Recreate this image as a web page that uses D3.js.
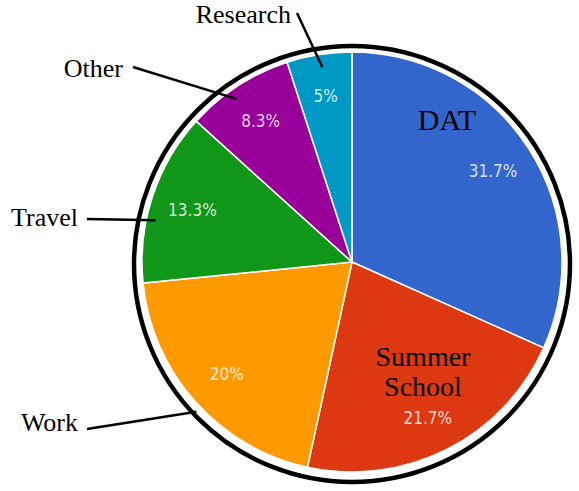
<!DOCTYPE html>
<html>
<head>
<meta charset="utf-8">
<script src="https://cdn.jsdelivr.net/npm/d3@7"></script>
<style>
  html, body { margin: 0; padding: 0; background: #fff; }
  svg { display: block; }
</style>
</head>
<body>
<div id="chart"></div>
<script>
// data
const categories = ["DAT", "Summer School", "Work", "Travel", "Other", "Research"];
const shares = [31.7, 21.7, 20, 13.3, 8.3, 5];
const pctLabels = ["31.7%", "21.7%", "20%", "13.3%", "8.3%", "5%"];
const colors = ["#3366cc", "#dc3912", "#ff9900", "#109618", "#990099", "#0099c6"];

const width = 579, height = 491;
const cx = 352, cy = 262, radius = 210;

// annotation layout (name labels)
const outside = {
  "Research": { x: 291, y: 23, lx: 297, ly: 13, t: 0.52, r: 197 },
  "Other":    { x: 123, y: 77, lx: 133, ly: 67, t: 0.42, r: 200 },
  "Travel":   { x: 78, y: 226, lx: 87, ly: 219, t: 0.37, r: 201 },
  "Work":     { x: 78, y: 431, lx: 87, ly: 429, t: 0.47, r: 216 }
};
const inside = {
  "DAT":           { x: 447, y: 130, lines: ["DAT"] },
  "Summer School": { x: 423, y: 366, lines: ["Summer", "School"] }
};

const svg = d3.select("#chart").append("svg")
  .attr("width", width)
  .attr("height", height);

const g = svg.append("g").attr("transform", `translate(${cx}, ${cy})`);

const data = categories.map((c, i) => ({ key: c, value: shares[i], label: pctLabels[i], color: colors[i] }));

const pie = d3.pie().sort(null).value(d => d.value);
const arcs = pie(data);

const arc = d3.arc().innerRadius(0).outerRadius(radius);
const labelArc = d3.arc().innerRadius(168).outerRadius(168);

// slices
g.selectAll("path.slice")
  .data(arcs)
  .join("path")
  .attr("class", "slice")
  .attr("d", arc)
  .attr("fill", d => d.data.color)
  .attr("stroke", "#ffffff")
  .attr("stroke-width", 1.5);

// percentage labels
g.selectAll("text.pct")
  .data(arcs)
  .join("text")
  .attr("class", "pct")
  .attr("transform", d => `translate(${labelArc.centroid(d)})`)
  .attr("text-anchor", "middle")
  .attr("dy", d => d.data.key === "Summer School" ? "0.7em" : "0.35em")
  .style("font-family", "'DejaVu Sans Condensed', 'DejaVu Sans', sans-serif")
  .style("font-size", "17px")
  .style("fill", "#ffffff")
  .style("fill-opacity", 0.82)
  .text(d => d.data.label);

// black ring around the pie
svg.append("circle")
  .attr("cx", cx)
  .attr("cy", cy + 2)
  .attr("r", 218)
  .attr("fill", "none")
  .attr("stroke", "#000")
  .attr("stroke-width", 4.5);

// outside names with leader lines
const outArcs = arcs.filter(d => outside[d.data.key]);
outArcs.forEach(d => {
  const o = outside[d.data.key];
  const a = d.startAngle + o.t * (d.endAngle - d.startAngle);
  const ex = cx + o.r * Math.sin(a);
  const ey = cy - o.r * Math.cos(a);
  svg.append("line")
    .attr("x1", o.lx).attr("y1", o.ly)
    .attr("x2", ex).attr("y2", ey)
    .attr("stroke", "#000")
    .attr("stroke-width", 2.5);
  svg.append("text")
    .attr("x", o.x)
    .attr("y", o.y)
    .attr("text-anchor", "end")
    .style("font-family", "'Liberation Serif', 'DejaVu Serif', serif")
    .style("font-size", "26px")
    .style("fill", "#000")
    .text(d.data.key);
});

// inside names, one text per line
Object.entries(inside).forEach(([key, o]) => {
  svg.selectAll(null)
    .data(o.lines)
    .join("text")
    .attr("x", o.x)
    .attr("y", (d, i) => o.y + i * 30)
    .attr("text-anchor", "middle")
    .style("font-family", "'Liberation Serif', 'DejaVu Serif', serif")
    .style("font-size", key === "DAT" ? "30px" : "28px")
    .style("fill", "#000")
    .text(d => d);
});
</script>
</body>
</html>
